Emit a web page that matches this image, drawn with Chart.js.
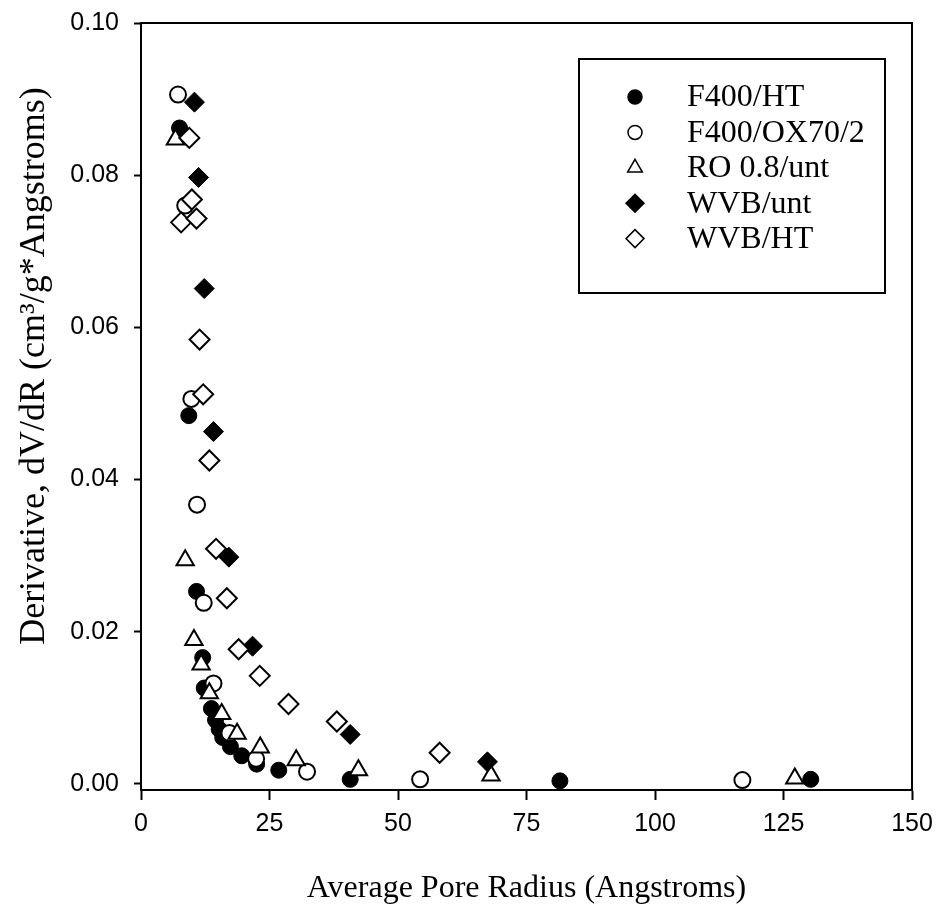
<!DOCTYPE html>
<html>
<head>
<meta charset="utf-8">
<script src="https://cdn.jsdelivr.net/npm/chart.js@4/dist/chart.umd.min.js"></script>
<style>
  html, body { margin: 0; padding: 0; background: #fff; }
  #wrap { width: 937px; height: 905px; position: relative; }
</style>
</head>
<body>
<div id="wrap"><canvas id="chart_poreRadiusDerivative"></canvas></div>
<script>
// values: radius in Angstroms, dV/dR in cm3/g*Angstrom
var f400htX = [7.5, 9.3, 10.8, 12.0, 12.3, 13.7, 14.5, 15.2, 15.9, 17.4, 19.6, 22.5, 26.8, 40.7, 81.5, 130.3];
var f400htY = [0.0862, 0.0484, 0.0253, 0.0166, 0.0126, 0.0099, 0.0084, 0.0072, 0.0061, 0.0049, 0.0037, 0.0026, 0.0018, 0.0006, 0.0004, 0.0006];

var f400oxX = [7.2, 8.6, 9.8, 10.9, 12.2, 14.1, 17.2, 22.4, 32.3, 54.3, 117.0];
var f400oxY = [0.0906, 0.0760, 0.0506, 0.0367, 0.0238, 0.0132, 0.0067, 0.0033, 0.0016, 0.0006, 0.0005];

var ro08X = [6.7, 8.6, 10.3, 11.7, 13.3, 15.7, 18.7, 23.2, 30.2, 42.3, 68.1, 127.2];
var ro08Y = [0.0847, 0.0294, 0.0189, 0.0157, 0.0119, 0.0092, 0.0066, 0.0048, 0.0031, 0.0018, 0.0011, 0.0007];

var wvbUntX = [10.4, 11.2, 12.3, 14.1, 17.1, 21.7, 40.7, 67.4];
var wvbUntY = [0.0896, 0.0797, 0.0651, 0.0463, 0.0298, 0.0181, 0.0065, 0.0029];

var wvbHtX = [9.4, 9.9, 7.8, 10.8, 11.4, 12.1, 13.3, 14.6, 16.7, 19.0, 23.1, 28.7, 38.1, 58.1];
var wvbHtY = [0.0849, 0.0768, 0.0738, 0.0743, 0.0584, 0.0512, 0.0425, 0.0309, 0.0244, 0.0177, 0.0142, 0.0105, 0.0082, 0.0041];

var xTicks = [0, 25, 50, 75, 100, 125, 150];
var yTicks = [0.00, 0.02, 0.04, 0.06, 0.08, 0.10];

var xTitle = 'Average Pore Radius (Angstroms)';
var yTitle = 'Derivative, dV/dR (cm\u00B3/g*Angstroms)';

function toPoints(xs, ys) {
    return xs.map(function (x, i) { return { x: x, y: ys[i] }; });
}

var serifFont = '"Liberation Serif", "Times New Roman", serif';
var sansFont = '"Liberation Sans", Arial, sans-serif';

// top and right edges of the plot box
var framePlugin = {
    id: 'frame',
    beforeDatasetsDraw: function (chart) {
        var a = chart.chartArea;
        var ctx = chart.ctx;
        ctx.save();
        ctx.strokeStyle = '#000';
        ctx.lineWidth = 2;
        ctx.beginPath();
        ctx.moveTo(a.left, a.top);
        ctx.lineTo(a.right, a.top);
        ctx.lineTo(a.right, a.bottom);
        ctx.stroke();
        ctx.restore();
    }
};

// y title sits a bit above the middle of the axis in the original
var yTitlePlugin = {
    id: 'yTitle',
    afterDraw: function (chart) {
        var ctx = chart.ctx;
        ctx.save();
        ctx.translate(44, 366);
        ctx.rotate(-Math.PI / 2);
        ctx.fillStyle = '#000';
        ctx.font = '36px ' + serifFont;
        ctx.textAlign = 'center';
        ctx.textBaseline = 'alphabetic';
        ctx.fillText(yTitle, 0, 0);
        ctx.restore();
    }
};

// boxed legend inside the plot, upper right
var boxLegendPlugin = {
    id: 'boxLegend',
    afterDatasetsDraw: function (chart) {
        var a = chart.chartArea;
        var ctx = chart.ctx;
        var left = a.right - 333, top = a.top + 36, w = 306, h = 234;
        ctx.save();
        ctx.fillStyle = '#fff';
        ctx.fillRect(left, top, w, h);
        ctx.strokeStyle = '#000';
        ctx.lineWidth = 2;
        ctx.strokeRect(left, top, w, h);
        chart.data.datasets.forEach(function (ds, i) {
            var y = top + 38 + i * 35.4;
            ctx.fillStyle = ds.backgroundColor;
            ctx.strokeStyle = '#000';
            ctx.lineWidth = 1.5;
            Chart.helpers.drawPoint(ctx, {
                pointStyle: ds.pointStyle,
                radius: ds.legendRadius,
                borderWidth: 1.5,
                rotation: 0
            }, left + 56, y);
            ctx.fillStyle = '#000';
            ctx.font = '32px ' + serifFont;
            ctx.textBaseline = 'middle';
            ctx.textAlign = 'left';
            ctx.fillText(ds.label, left + 108, y + 1);
        });
        ctx.restore();
    }
};

var chart_poreRadiusDerivative = new Chart(document.getElementById('chart_poreRadiusDerivative'), {
    type: 'scatter',
    data: {
        datasets: [
            {
                label: 'F400/HT',
                data: toPoints(f400htX, f400htY),
                pointStyle: 'circle',
                pointRadius: 8,
                legendRadius: 7,
                backgroundColor: '#000',
                borderColor: '#000',
                borderWidth: 1,
                order: 5
            },
            {
                label: 'F400/OX70/2',
                data: toPoints(f400oxX, f400oxY),
                pointStyle: 'circle',
                pointRadius: 8,
                legendRadius: 7,
                backgroundColor: '#fff',
                borderColor: '#000',
                borderWidth: 2,
                order: 4
            },
            {
                label: 'RO 0.8/unt',
                data: toPoints(ro08X, ro08Y),
                pointStyle: 'triangle',
                pointRadius: 10,
                legendRadius: 8.5,
                backgroundColor: '#fff',
                borderColor: '#000',
                borderWidth: 2,
                order: 3
            },
            {
                label: 'WVB/unt',
                data: toPoints(wvbUntX, wvbUntY),
                pointStyle: 'rectRot',
                pointRadius: 10,
                legendRadius: 9,
                backgroundColor: '#000',
                borderColor: '#000',
                borderWidth: 1,
                order: 2
            },
            {
                label: 'WVB/HT',
                data: toPoints(wvbHtX, wvbHtY),
                pointStyle: 'rectRot',
                pointRadius: 10,
                legendRadius: 9,
                backgroundColor: '#fff',
                borderColor: '#000',
                borderWidth: 2,
                order: 1
            }
        ]
    },
    options: {
        animation: false,
        responsive: true,
        maintainAspectRatio: false,
        layout: {
            padding: { top: 23, right: 25, left: 0, bottom: 0 }
        },
        plugins: {
            legend: { display: false },
            tooltip: { enabled: false }
        },
        scales: {
            x: {
                type: 'linear',
                min: 0,
                max: 150,
                afterBuildTicks: function (scale) {
                    scale.ticks = xTicks.map(function (v) { return { value: v }; });
                },
                afterFit: function (scale) {
                    scale.height = 115;
                    scale.paddingLeft = 0;
                    scale.paddingRight = 0;
                },
                grid: { drawOnChartArea: false, tickLength: 10, tickWidth: 2, tickColor: '#000' },
                border: { color: '#000', width: 2 },
                ticks: {
                    color: '#000',
                    maxRotation: 0,
                    padding: 9,
                    font: { family: sansFont, size: 25 }
                },
                title: {
                    display: true,
                    text: xTitle,
                    color: '#000',
                    font: { family: serifFont, size: 32, lineHeight: 1 },
                    padding: { top: 0, bottom: 0 }
                }
            },
            y: {
                type: 'linear',
                min: -0.0008,
                max: 0.10,
                afterBuildTicks: function (scale) {
                    scale.ticks = yTicks.map(function (v) { return { value: v }; });
                },
                afterFit: function (scale) {
                    scale.width = 141;
                    scale.paddingTop = 0;
                    scale.paddingBottom = 0;
                },
                grid: { drawOnChartArea: false, tickLength: 7, tickWidth: 2, tickColor: '#000' },
                border: { color: '#000', width: 2 },
                ticks: {
                    color: '#000',
                    padding: 15,
                    font: { family: sansFont, size: 25 },
                    callback: function (v) { return v.toFixed(2); }
                },
                title: { display: false }
            }
        }
    },
    plugins: [framePlugin, boxLegendPlugin, yTitlePlugin]
});
</script>
</body>
</html>
